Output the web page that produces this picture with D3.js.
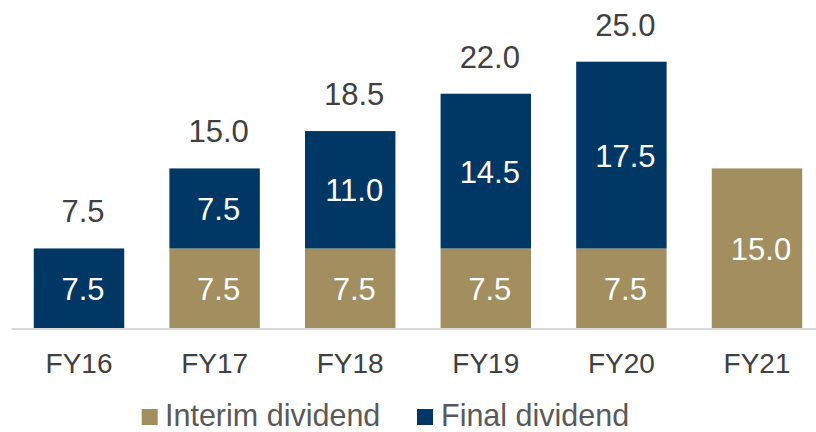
<!DOCTYPE html>
<html>
<head>
<meta charset="utf-8">
<script src="https://cdn.jsdelivr.net/npm/d3@7"></script>
<style>
  html, body { margin: 0; padding: 0; background: #fff; }
  svg { display: block; font-family: "Liberation Sans", Arial, sans-serif; }
</style>
</head>
<body>
<svg id="chart" width="816" height="432"></svg>
<script>
const categories = ["FY16", "FY17", "FY18", "FY19", "FY20", "FY21"];
const interim = [0, 7.5, 7.5, 7.5, 7.5, 15.0];
const finalDiv = [7.5, 7.5, 11.0, 14.5, 17.5, 0];
const totals = [7.5, 15.0, 18.5, 22.0, 25.0, null];
const seriesNames = ["Interim dividend", "Final dividend"];

const colors = { interim: "#A28E5F", final: "#003764" };

const svg = d3.select("#chart");
const baseY = 328.5;
const x = d3.scaleBand().domain(categories).range([11.2, 824.8]).paddingInner(0.333).paddingOuter(0.1665);
const y = d3.scaleLinear().domain([0, 25]).range([baseY, 61.7]);

const data = categories.map((c, i) => ({ c, interim: interim[i], final: finalDiv[i], total: totals[i] }));
const stack = d3.stack().keys(["interim", "final"])(data);

const g = svg.append("g");
stack.forEach(layer => {
  g.selectAll(null).data(layer.filter(d => d[1] - d[0] > 0)).enter().append("rect")
    .attr("x", d => x(d.data.c))
    .attr("width", x.bandwidth())
    .attr("y", d => y(d[1]))
    .attr("height", d => y(d[0]) - y(d[1]))
    .attr("fill", layer.key === "interim" ? colors.interim : colors.final);
  g.selectAll(null).data(layer.filter(d => d[1] - d[0] > 0)).enter().append("text")
    .attr("x", d => x(d.data.c) + x.bandwidth() / 2 + 4)
    .attr("y", d => (y(d[0]) + y(d[1])) / 2 + 11.5)
    .attr("text-anchor", "middle")
    .attr("fill", "#ffffff")
    .attr("font-size", 31)
    .text(d => (d[1] - d[0]).toFixed(1));
});

// totals
g.selectAll(null).data(data.filter(d => d.total != null)).enter().append("text")
  .attr("x", d => x(d.c) + x.bandwidth() / 2 + 4)
  .attr("y", d => y(d.total) - 26)
  .attr("text-anchor", "middle")
  .attr("fill", "#404040")
  .attr("font-size", 31)
  .text(d => d.total.toFixed(1));

// axis
const axis = d3.axisBottom(x).tickSize(0).tickPadding(0);
const ax = svg.append("g").attr("transform", `translate(0,${baseY})`).call(axis);
ax.select(".domain").attr("stroke", "#D9D9D9").attr("stroke-width", 2);
ax.selectAll(".tick text")
  .attr("dy", null)
  .attr("y", 44)
  .attr("font-size", 28)
  .attr("font-family", "Liberation Sans, Arial, sans-serif")
  .attr("fill", "#404040");

// legend
const legendItems = [
  { name: seriesNames[0], color: colors.interim, x: 141.7, tx: 165 },
  { name: seriesNames[1], color: colors.final, x: 417, tx: 441 }
];
const lg = svg.append("g");
legendItems.forEach(it => {
  lg.append("rect").attr("x", it.x).attr("y", 409).attr("width", 16).attr("height", 16).attr("fill", it.color);
  lg.append("text").attr("x", it.tx).attr("y", 425.5).attr("font-size", 30.5).attr("fill", "#595959").text(it.name);
});
</script>
</body>
</html>
